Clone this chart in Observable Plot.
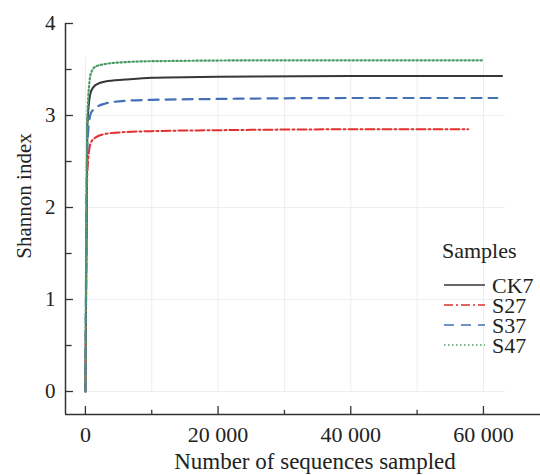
<!DOCTYPE html>
<html><head><meta charset="utf-8">
<script src="https://cdn.jsdelivr.net/npm/d3@7"></script>
<script src="https://cdn.jsdelivr.net/npm/@observablehq/plot@0.6"></script>
<style>body{margin:0;background:#fff} #wrap{position:relative;width:540px;height:475px}</style>
</head><body><div id="wrap"></div>
<script>
const samples = ["CK7", "S27", "S37", "S47"];
const depthCK7 = [0, 300, 800, 1500, 3000, 6000, 10000, 20000, 40000, 62800];
const shannonCK7 = [0, 2.9, 3.25, 3.33, 3.37, 3.39, 3.41, 3.42, 3.43, 3.43];
const depthS27 = [0, 300, 800, 1500, 3000, 6000, 10000, 20000, 40000, 57700];
const shannonS27 = [0, 2.4, 2.7, 2.76, 2.8, 2.82, 2.83, 2.84, 2.85, 2.85];
const depthS37 = [0, 300, 800, 1500, 3000, 6000, 10000, 20000, 40000, 62100];
const shannonS37 = [0, 2.7, 3.02, 3.08, 3.13, 3.16, 3.17, 3.18, 3.19, 3.19];
const depthS47 = [0, 300, 800, 1500, 3000, 6000, 10000, 30000, 59800];
const shannonS47 = [0, 3.0, 3.45, 3.53, 3.56, 3.58, 3.59, 3.6, 3.6];
const xTicks = [0, 20000, 40000, 60000];
const xMinorTicks = [10000, 30000, 50000];
const xGrid = [0, 10000, 20000, 30000, 40000, 50000, 60000];
const yTicks = [0, 1, 2, 3, 4];
const yMinorTicks = [0.5, 1.5, 2.5, 3.5];
const yGrid = [0, 1, 2, 3];
const xTitle = "Number of sequences sampled";
const yTitle = "Shannon index";
const legendTitle = "Samples";

const depths = {CK7: depthCK7, S27: depthS27, S37: depthS37, S47: depthS47};
const values = {CK7: shannonCK7, S27: shannonS27, S37: shannonS37, S47: shannonS47};
const rows = samples.flatMap(s => depths[s].map((d, i) => ({sample: s, depth: d, shannon: values[s][i]})));

const styles = {
  CK7: {stroke: "#3a3536", dash: null, width: 2},
  S27: {stroke: "#e0312f", dash: "9,3,2,3", width: 2},
  S37: {stroke: "#4470b8", dash: "10,7", width: 2.2},
  S47: {stroke: "#4f9a6a", dash: "1.5,2.5", width: 2.2}
};

const xDom = [-3000, 68600], yDom = [-0.25, 4];
const fmt = d => d3.format(",")(d).replace(/,/g, " ");
const font = "'Liberation Serif', 'Times New Roman', 'DejaVu Serif', serif";
const ink = "#222";

const plot = Plot.plot({
  width: 540, height: 475,
  marginLeft: 65, marginRight: 0, marginTop: 23, marginBottom: 61,
  style: {fontFamily: font, fontSize: "22px", color: ink, background: "#fff"},
  x: {domain: xDom},
  y: {domain: yDom},
  marks: [
    Plot.ruleX(xGrid, {y1: 0, y2: 3.63, stroke: "#ededed", strokeWidth: 1}),
    Plot.ruleY(yGrid, {x1: 0, x2: 63300, stroke: "#ededed", strokeWidth: 1}),
    ...samples.map(s => Plot.line(rows.filter(r => r.sample === s), {
      x: "depth", y: "shannon", curve: "monotone-x",
      stroke: styles[s].stroke, strokeWidth: styles[s].width, strokeDasharray: styles[s].dash
    })),
    Plot.ruleX([xDom[0]], {y1: yDom[0], y2: 4, stroke: "#333", strokeWidth: 1.5}),
    Plot.ruleY([yDom[0]], {x1: xDom[0], x2: xDom[1], stroke: "#333", strokeWidth: 1.5}),
    Plot.ruleY(yTicks, {x1: xDom[0], x2: xDom[0] + 1210, stroke: "#333", strokeWidth: 1.3}),
    Plot.ruleY(yMinorTicks, {x1: xDom[0], x2: xDom[0] + 1000, stroke: "#333", strokeWidth: 1.3}),
    Plot.ruleX(xTicks, {y1: yDom[0], y2: yDom[0] + 0.087, stroke: "#333", strokeWidth: 1.3}),
    Plot.ruleX(xMinorTicks, {y1: yDom[0], y2: yDom[0] + 0.045, stroke: "#333", strokeWidth: 1.3}),
    Plot.axisY(yTicks, {tickSize: 0, tickPadding: 10, tickFormat: d3.format("d"), label: null, fontSize: 21, fontFamily: font, fill: ink}),
    Plot.axisX(xTicks, {tickSize: 0, tickPadding: 12, tickFormat: fmt, label: null, fontSize: 22, fontFamily: font, fill: ink})
  ]
});
const wrap = document.getElementById("wrap");
wrap.appendChild(plot);

const svg = d3.select(plot);
svg.append("text").attr("x", 315).attr("y", 461).attr("dy", "0.35em").attr("text-anchor", "middle")
  .style("font-family", font).style("font-size", "23px").attr("fill", ink).text(xTitle);
svg.append("text").attr("transform", "translate(24,196) rotate(-90)").attr("dy", "0.35em").attr("text-anchor", "middle")
  .style("font-family", font).style("font-size", "21px").attr("fill", ink).text(yTitle);

// legend overlay
const leg = d3.select(wrap).append("svg").attr("width", 110).attr("height", 150)
  .style("position", "absolute").style("left", "430px").style("top", "235px")
  .style("font-family", font).style("font-size", "22px").style("overflow", "visible");
leg.append("text").attr("x", 12).attr("y", 15).attr("dy", "0.35em").attr("fill", ink).text(legendTitle);
samples.forEach((s, i) => {
  const y = 50 + i * 20;
  leg.append("line").attr("x1", 14).attr("x2", 55).attr("y1", y).attr("y2", y)
    .attr("stroke", styles[s].stroke).attr("stroke-width", 1.3)
    .attr("stroke-dasharray", styles[s].dash);
  leg.append("text").attr("x", 62).attr("y", y).attr("dy", "0.35em").attr("fill", ink).text(s);
});
</script></body></html>
